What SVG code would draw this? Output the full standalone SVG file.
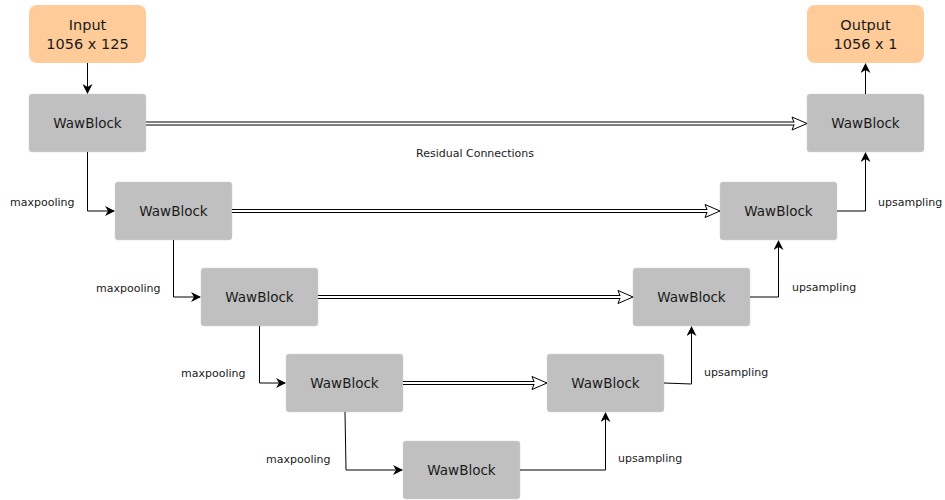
<svg xmlns="http://www.w3.org/2000/svg" width="945" height="500" viewBox="0 0 945 500">
<defs>
<style>
.io{fill:#FFCC99;stroke:none}
.wb{fill:#C0C0C0;stroke:#D0D0D0;stroke-width:0.5}
.t{font-family:"DejaVu Sans",Verdana,sans-serif;fill:#1a1a1a;text-anchor:middle}
.big{font-size:14.5px}
.blk{font-size:13.5px}
.lbl{font-family:"DejaVu Sans",Verdana,sans-serif;font-size:11px;fill:#1a1a1a}
.ln{fill:none;stroke:#000;stroke-width:1}
.dbo{fill:none;stroke:#000;stroke-width:4}
.dbi{fill:none;stroke:#fff;stroke-width:2}
.head{fill:#fff;stroke:#000;stroke-width:1;stroke-linejoin:miter}
</style>
<marker id="arr" viewBox="0 0 10 10" refX="9" refY="5" markerWidth="10" markerHeight="10" markerUnits="userSpaceOnUse" orient="auto">
<path d="M0,0 L10,5 L0,10 L3,5 Z" fill="#000"/>
</marker>
</defs>
<rect width="945" height="500" fill="#fff"/>

<g id="input"><rect class="io" x="29" y="5" width="117" height="58" rx="8"/><text class="t big" x="87.5" y="30">Input</text><text class="t big" x="87.5" y="49">1056 x 125</text></g>
<g id="output"><rect class="io" x="807" y="5" width="117" height="58" rx="8"/><text class="t big" x="865.5" y="30">Output</text><text class="t big" x="865.5" y="49">1056 x 1</text></g>

<g id="enc1"><rect class="wb" x="29" y="94" width="117" height="58" rx="3"/><text class="t blk" x="87.5" y="128">WawBlock</text></g>
<g id="enc2"><rect class="wb" x="115" y="182" width="117" height="58" rx="3"/><text class="t blk" x="173.5" y="216">WawBlock</text></g>
<g id="enc3"><rect class="wb" x="201" y="268" width="117" height="58" rx="3"/><text class="t blk" x="259.5" y="302">WawBlock</text></g>
<g id="enc4"><rect class="wb" x="286" y="354" width="117" height="58" rx="3"/><text class="t blk" x="344.5" y="388">WawBlock</text></g>
<g id="bottom"><rect class="wb" x="403" y="441" width="117" height="58" rx="3"/><text class="t blk" x="461.5" y="475">WawBlock</text></g>
<g id="dec4"><rect class="wb" x="547" y="354" width="117" height="58" rx="3"/><text class="t blk" x="605.5" y="388">WawBlock</text></g>
<g id="dec3"><rect class="wb" x="633" y="268" width="117" height="58" rx="3"/><text class="t blk" x="691.5" y="302">WawBlock</text></g>
<g id="dec2"><rect class="wb" x="720" y="182" width="117" height="58" rx="3"/><text class="t blk" x="778.5" y="216">WawBlock</text></g>
<g id="dec1"><rect class="wb" x="807" y="94" width="117" height="58" rx="3"/><text class="t blk" x="865.5" y="128">WawBlock</text></g>

<g id="connectors">
<path class="ln" d="M87.5,63 V93" marker-end="url(#arr)"/>
<path class="ln" d="M87.5,152 V211 H114" marker-end="url(#arr)"/>
<path class="ln" d="M173.5,240 V297 H200" marker-end="url(#arr)"/>
<path class="ln" d="M259.5,326 V383 H285" marker-end="url(#arr)"/>
<path class="ln" d="M345,412 L346,470 H402" marker-end="url(#arr)"/>
<path class="ln" d="M520,470 H605.5 V413" marker-end="url(#arr)"/>
<path class="ln" d="M664,383 L691.5,384 V327" marker-end="url(#arr)"/>
<path class="ln" d="M750,297 H778.5 V241" marker-end="url(#arr)"/>
<path class="ln" d="M837,211 H865.5 V153" marker-end="url(#arr)"/>
<path class="ln" d="M865.5,94 V64" marker-end="url(#arr)"/>

<polygon class="head" points="807,123.5 792,117 794.5,123.5 792,130"/>
<path class="dbo" d="M146,123.5 H794"/><path class="dbi" d="M146,123.5 H795"/>
<polygon class="head" points="720,211 705,204.5 707.5,211 705,217.5"/>
<path class="dbo" d="M232,211 H707"/><path class="dbi" d="M232,211 H708"/>
<polygon class="head" points="633,297 618,290.5 620.5,297 618,303.5"/>
<path class="dbo" d="M318,297 H620"/><path class="dbi" d="M318,297 H621"/>
<polygon class="head" points="547,383 532,376.5 534.5,383 532,389.5"/>
<path class="dbo" d="M403,383 H534"/><path class="dbi" d="M403,383 H535"/>
</g>

<g id="labels">
<text class="lbl" x="475" y="157" text-anchor="middle">Residual Connections</text>
<text class="lbl" x="10" y="206">maxpooling</text>
<text class="lbl" x="96" y="292">maxpooling</text>
<text class="lbl" x="181" y="377">maxpooling</text>
<text class="lbl" x="266" y="463">maxpooling</text>
<text class="lbl" x="878" y="206">upsampling</text>
<text class="lbl" x="792" y="291">upsampling</text>
<text class="lbl" x="704" y="376">upsampling</text>
<text class="lbl" x="618" y="462">upsampling</text>
</g>
</svg>
